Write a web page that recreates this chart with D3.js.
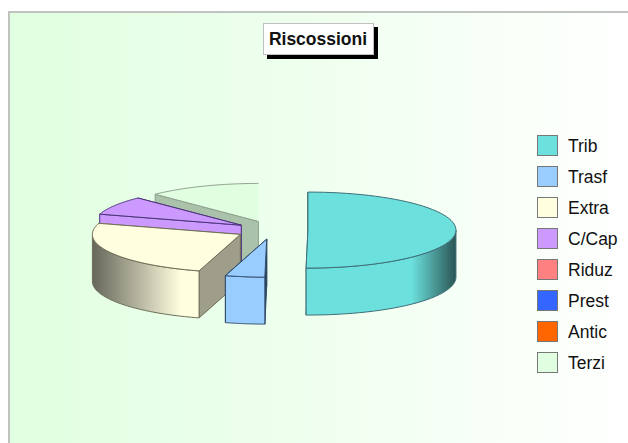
<!DOCTYPE html>
<html lang="en">

<head>
	<meta charset="utf-8">
	<title>Riscossioni</title>
	<style>
        html, body { margin: 0; padding: 0; background: #fff; }
        svg { display: block; }
        text { font-family: "Liberation Sans", Arial, sans-serif; fill: #111; }
	</style>
	<script src="https://d3js.org/d3.v7.min.js"></script>
</head>

<body>
    <svg width="628" height="443"></svg>

	<script>
        // values, in percent of the total
        const categories = ["Trib", "Trasf", "Extra", "C/Cap", "Riduz", "Prest", "Antic", "Terzi"];
        const values = [50.2, 4.3, 25.2, 8, 0, 0, 0, 12.3];
        const colors = ["#6ce0dd", "#99ccff", "#ffffe0", "#cc99ff", "#ff8080", "#3366ff", "#ff6600", "#e0ffe0"];
        const strokes = ["#3f6f78", "#2f4a68", "#6f6e58", "#4a3478", "#804040", "#20408f", "#803300", "#8f9f8f"];
        // brightness of the flat wall that shows at each slice's radial cut
        const wallShade = [0.8, 0.3, 0.62, 1, 1, 1, 1, 0.76];
        const title = "Riscossioni";

        const svg = d3.select("svg");
        const defs = svg.append("defs");

        const cx = 272, cy = 230, rx = 148, ry = 38, depth = 47, explode = 0.243;

        // unit circle to screen, the flattened pie is just two linear scales
        const px = d3.scaleLinear().domain([-1, 1]).range([cx - rx, cx + rx]);
        const py = d3.scaleLinear().domain([-1, 1]).range([cy - ry, cy + ry]);

        const pie = d3.pie().value(d => d).sort(null)(values);

        // background panel
        const bg = defs.append("linearGradient").attr("id", "bg");
        bg.append("stop").attr("offset", "0%").attr("stop-color", "#e0ffe0");
        bg.append("stop").attr("offset", "100%").attr("stop-color", "#ffffff");
        svg.append("rect")
            .attr("x", 9).attr("y", 12)
            .attr("width", 630).attr("height", 440)
            .attr("fill", "url(#bg)")
            .attr("stroke", "#c0c4c0")
            .attr("stroke-width", 2);

        function shade(color, k) {
            const c = d3.rgb(color);
            return d3.rgb(c.r * k, c.g * k, c.b * k).formatHex();
        }

        function drawSlice(d, i) {
            const mid = (d.startAngle + d.endAngle) / 2;
            const ox = explode * Math.sin(mid), oy = -explode * Math.cos(mid);
            const X = a => px(ox + Math.sin(a));
            const Y = a => py(oy - Math.cos(a));
            const ax = px(ox), ay = py(oy);
            const closes = d.endAngle > 2 * Math.PI - 1e-6;
            const g = svg.append("g").attr("class", "slice");

            const angles = d3.range(0, 61).map(t => d.startAngle + (d.endAngle - d.startAngle) * t / 60);

            // flat walls at the radial cuts, the start one faces us so it goes last
            [d.endAngle, d.startAngle].forEach(a => {
                g.append("path")
                    .attr("d", `M${ax},${ay}L${X(a)},${Y(a)}l0,${depth}L${ax},${ay + depth}Z`)
                    .attr("fill", shade(colors[i], wallShade[i]))
                    .attr("stroke", a === d.endAngle && closes ? "none" : strokes[i]);
            });

            // outer rim, only the part that faces the viewer
            const rim = angles.filter(a => Math.cos(a) <= 0);
            if (rim.length > 1) {
                const id = "rim" + i;
                const grad = defs.append("linearGradient").attr("id", id)
                    .attr("gradientUnits", "userSpaceOnUse")
                    .attr("x1", px(ox - 1)).attr("x2", px(ox + 1)).attr("y1", 0).attr("y2", 0);
                [[0, 0.4], [0.3, 1], [0.85, 1], [1, 0.38]].forEach(s => {
                    grad.append("stop").attr("offset", s[0])
                        .attr("stop-color", shade(colors[i], s[1]));
                });
                const front = rim.map(a => [X(a), Y(a)]);
                const back = rim.slice().reverse().map(a => [X(a), Y(a) + depth]);
                g.append("path")
                    .attr("d", d3.line()(front.concat(back)) + "Z")
                    .attr("fill", "url(#" + id + ")")
                    .attr("stroke", strokes[i]);
            }

            // top face
            const top = [[ax, ay]].concat(angles.map(a => [X(a), Y(a)]));
            g.append("path")
                .attr("d", d3.line()(top) + "Z")
                .attr("fill", colors[i]);
            g.append("path")
                .attr("d", d3.line()(angles.map(a => [X(a), Y(a)])))
                .attr("fill", "none")
                .attr("stroke", strokes[i]);
            g.append("line")
                .attr("x1", ax).attr("y1", ay)
                .attr("x2", X(d.startAngle)).attr("y2", Y(d.startAngle))
                .attr("stroke", strokes[i]);
            if (!closes) {
                g.append("line")
                    .attr("x1", ax).attr("y1", ay)
                    .attr("x2", X(d.endAngle)).attr("y2", Y(d.endAngle))
                    .attr("stroke", strokes[i]);
            }
        }

        // back to front
        [7, 3, 2, 1, 0].forEach(i => drawSlice(pie[i], i));

        // title box
        const tb = svg.append("g");
        tb.append("rect").attr("x", 267).attr("y", 27).attr("width", 111).attr("height", 32).attr("fill", "#000");
        tb.append("rect").attr("x", 263.5).attr("y", 23.5).attr("width", 110).attr("height", 31)
            .attr("fill", "#fff").attr("stroke", "#c0c0c0");
        tb.append("text").attr("x", 318).attr("y", 45)
            .attr("text-anchor", "middle")
            .style("font-weight", "bold").style("font-size", "17.5px")
            .text(title);

        // legend
        const ly = d3.scalePoint().domain(categories).range([145, 362]);
        const legend = svg.append("g").selectAll("g").data(categories).join("g")
            .attr("transform", d => `translate(537.5,${Math.round(ly(d) - 10.5) + 0.5})`);
        legend.append("rect")
            .attr("width", 20).attr("height", 20)
            .attr("fill", (d, i) => colors[i])
            .attr("stroke", "#777");
        legend.append("text")
            .attr("x", 30.5).attr("y", 16)
            .style("font-size", "17.5px")
            .text(d => d);
    </script>
</body>

</html>
